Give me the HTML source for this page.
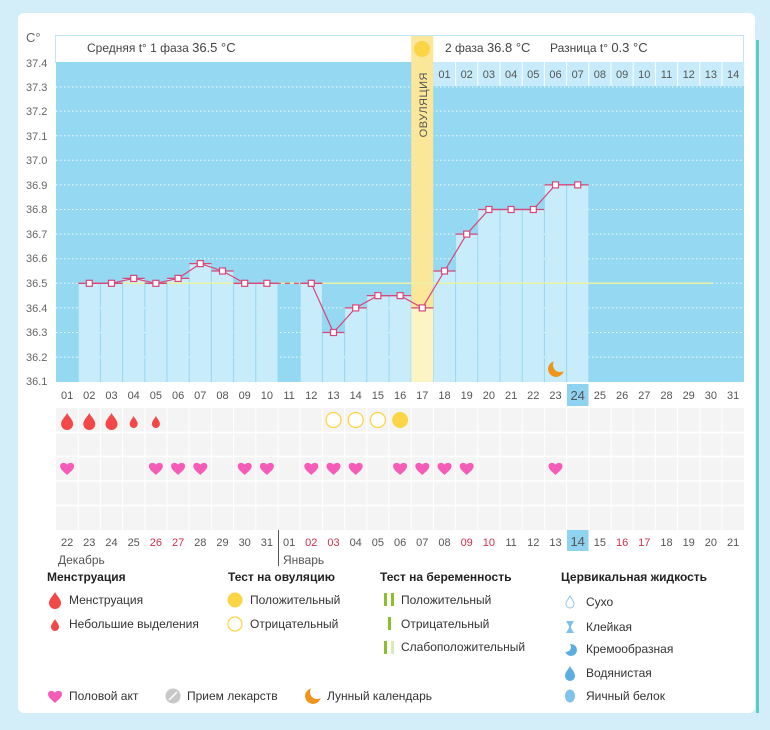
<!DOCTYPE html>
<html><head><meta charset="utf-8"><style>
body{margin:0;width:770px;height:730px;overflow:hidden;background:#d3eef9;font-family:"Liberation Sans",sans-serif}
svg{position:absolute;left:0;top:0}
text{font-family:"Liberation Sans",sans-serif}
</style></head><body>
<svg width="770" height="730" viewBox="0 0 770 730">
<defs>
<path id="hrt" d="M0,7 C-3,4 -7,1.5 -7,-2 C-7,-5 -3,-6.5 0,-3.5 C3,-6.5 7,-5 7,-2 C7,1.5 3,4 0,7Z" fill="#f55cb8"/>
<path id="drp" d="M0,-8 C2,-4 6,-1 6,3 A6,6 0 0 1 -6,3 C-6,-1 -2,-4 0,-8Z" fill="#f24848"/>
<path id="drs" d="M0,-6 C1.5,-3 4,-1 4,2 A4,4 0 0 1 -4,2 C-4,-1 -1.5,-3 0,-6Z" fill="#f24848"/>
<mask id="moonm" maskUnits="userSpaceOnUse" x="-20" y="-20" width="40" height="40">
<circle cx="0" cy="0" r="8" fill="#fff"/><circle cx="4" cy="-4" r="7" fill="#000"/>
</mask>
<mask id="creamm" maskUnits="userSpaceOnUse" x="-20" y="-20" width="40" height="40">
<circle cx="0" cy="0" r="6" fill="#fff"/><circle cx="-5" cy="-3" r="5" fill="#000"/>
</mask>
</defs>
<rect x="0" y="0" width="770" height="730" fill="#d3eef9"/>
<rect x="18" y="13" width="737" height="700" rx="6" fill="#fff"/>
<rect x="756" y="40" width="3" height="680" fill="#5ccdc0"/>
<rect x="0" y="713" width="770" height="8" fill="#d3eef9"/>

<rect x="55.5" y="35.5" width="688" height="27" fill="#fff" stroke="#bfe6f6"/>
<text x="87" y="52" font-size="12" fill="#444">Средняя t° 1 фаза <tspan font-size="13">36.5 °C</tspan></text>
<text x="445" y="52" font-size="12" fill="#444">2 фаза <tspan font-size="13">36.8 °C</tspan></text>
<text x="550" y="52" font-size="12" fill="#444">Разница t° <tspan font-size="13">0.3 °C</tspan></text>

<rect x="56" y="62" width="688" height="320" fill="#94d8f2"/>
<g stroke="#fff" stroke-dasharray="1.5 2.5" stroke-width="1" opacity="0.9">
<line x1="56" x2="744" y1="87" y2="87"/><line x1="56" x2="744" y1="111.1" y2="111.1"/>
<line x1="56" x2="744" y1="135.7" y2="135.7"/><line x1="56" x2="744" y1="160.3" y2="160.3"/>
<line x1="56" x2="744" y1="184.9" y2="184.9"/><line x1="56" x2="744" y1="209.5" y2="209.5"/>
<line x1="56" x2="744" y1="234.1" y2="234.1"/><line x1="56" x2="744" y1="258.7" y2="258.7"/>
<line x1="56" x2="744" y1="283.3" y2="283.3"/><line x1="56" x2="744" y1="307.9" y2="307.9"/>
<line x1="56" x2="744" y1="332.5" y2="332.5"/><line x1="56" x2="744" y1="357.1" y2="357.1"/>
</g>
<rect x="433" y="62" width="311" height="24" fill="#c7ebfa"/>
<g stroke="#fff" stroke-width="1">
<line x1="455.6" x2="455.6" y1="62" y2="86"/><line x1="477.8" x2="477.8" y1="62" y2="86"/><line x1="500" x2="500" y1="62" y2="86"/><line x1="522.2" x2="522.2" y1="62" y2="86"/><line x1="544.4" x2="544.4" y1="62" y2="86"/><line x1="566.6" x2="566.6" y1="62" y2="86"/><line x1="588.8" x2="588.8" y1="62" y2="86"/><line x1="611" x2="611" y1="62" y2="86"/><line x1="633.2" x2="633.2" y1="62" y2="86"/><line x1="655.4" x2="655.4" y1="62" y2="86"/><line x1="677.6" x2="677.6" y1="62" y2="86"/><line x1="699.8" x2="699.8" y1="62" y2="86"/><line x1="722" x2="722" y1="62" y2="86"/>
</g>
<g font-size="11" fill="#555" text-anchor="middle">
<text x="444.5" y="78">01</text><text x="466.7" y="78">02</text><text x="488.9" y="78">03</text><text x="511.1" y="78">04</text><text x="533.3" y="78">05</text><text x="555.5" y="78">06</text><text x="577.7" y="78">07</text><text x="599.9" y="78">08</text><text x="622.1" y="78">09</text><text x="644.3" y="78">10</text><text x="666.5" y="78">11</text><text x="688.7" y="78">12</text><text x="710.9" y="78">13</text><text x="733.1" y="78">14</text>
</g>

<g fill="#c9ecfa">
<rect x="78.7" y="283.3" width="21.2" height="98.7"/><rect x="100.9" y="283.3" width="21.2" height="98.7"/>
<rect x="123.1" y="278.4" width="21.2" height="103.6"/><rect x="145.3" y="283.3" width="21.2" height="98.7"/>
<rect x="167.5" y="278.4" width="21.2" height="103.6"/><rect x="189.7" y="263.6" width="21.2" height="118.4"/>
<rect x="211.9" y="271" width="21.2" height="111"/><rect x="234.1" y="283.3" width="21.2" height="98.7"/>
<rect x="256.3" y="283.3" width="21.2" height="98.7"/>
<rect x="300.7" y="283.3" width="21.2" height="98.7"/><rect x="322.9" y="332.5" width="21.2" height="49.5"/>
<rect x="345.1" y="307.9" width="21.2" height="74.1"/><rect x="367.3" y="295.6" width="21.2" height="86.4"/>
<rect x="389.5" y="295.6" width="21.2" height="86.4"/>
<rect x="433.9" y="271" width="21.2" height="111"/><rect x="456.1" y="234.1" width="21.2" height="147.9"/>
<rect x="478.3" y="209.5" width="21.2" height="172.5"/><rect x="500.5" y="209.5" width="21.2" height="172.5"/>
<rect x="522.7" y="209.5" width="21.2" height="172.5"/><rect x="544.9" y="184.9" width="21.2" height="197.1"/>
<rect x="567.1" y="184.9" width="21.2" height="197.1"/>
</g>
<rect x="411.2" y="36" width="22" height="272" fill="#fbe79a"/>
<rect x="411.2" y="308" width="22" height="74" fill="#fdf4c6"/>
<circle cx="422" cy="49" r="8" fill="#fbd546"/>
<text transform="translate(427,72) rotate(-90)" font-size="11" fill="#555" text-anchor="end" letter-spacing="0.5">ОВУЛЯЦИЯ</text>

<line x1="78" x2="712" y1="283.3" y2="283.3" stroke="#e9f3a6" stroke-width="1.5"/>

<g stroke="#d8477a" stroke-width="1.3">
<line x1="78.2" x2="100.4" y1="283.3" y2="283.3"/><line x1="100.4" x2="122.6" y1="283.3" y2="283.3"/><line x1="122.6" x2="144.8" y1="278.4" y2="278.4"/><line x1="144.8" x2="167" y1="283.3" y2="283.3"/><line x1="167" x2="189.2" y1="278.4" y2="278.4"/><line x1="189.2" x2="211.4" y1="263.6" y2="263.6"/><line x1="211.4" x2="233.6" y1="271" y2="271"/><line x1="233.6" x2="255.8" y1="283.3" y2="283.3"/><line x1="255.8" x2="278" y1="283.3" y2="283.3"/><line x1="300.2" x2="322.4" y1="283.3" y2="283.3"/><line x1="322.4" x2="344.6" y1="332.5" y2="332.5"/><line x1="344.6" x2="366.8" y1="307.9" y2="307.9"/><line x1="366.8" x2="389" y1="295.6" y2="295.6"/><line x1="389" x2="411.2" y1="295.6" y2="295.6"/><line x1="411.2" x2="433.4" y1="307.9" y2="307.9"/><line x1="433.4" x2="455.6" y1="271" y2="271"/><line x1="455.6" x2="477.8" y1="234.1" y2="234.1"/><line x1="477.8" x2="500" y1="209.5" y2="209.5"/><line x1="500" x2="522.2" y1="209.5" y2="209.5"/><line x1="522.2" x2="544.4" y1="209.5" y2="209.5"/><line x1="544.4" x2="566.6" y1="184.9" y2="184.9"/><line x1="566.6" x2="588.8" y1="184.9" y2="184.9"/>
</g>
<polyline fill="none" stroke="#d8477a" stroke-width="1.2" points="89.3,283.3 111.5,283.3 133.7,278.4 155.9,283.3 178.1,278.4 200.3,263.6 222.5,271 244.7,283.3 266.9,283.3"/>
<line x1="266.9" x2="311.3" y1="283.3" y2="283.3" stroke="#d8477a" stroke-width="1.2" stroke-dasharray="5 4"/>
<polyline fill="none" stroke="#d8477a" stroke-width="1.2" points="311.3,283.3 333.5,332.5 355.7,307.9 377.9,295.6 400.1,295.6 422.3,307.9 444.5,271 466.7,234.1 488.9,209.5 511.1,209.5 533.3,209.5 555.5,184.9 577.7,184.9"/>
<g fill="#fff" stroke="#d8477a" stroke-width="1.2">
<rect x="86.3" y="280.3" width="6" height="6"/><rect x="108.5" y="280.3" width="6" height="6"/><rect x="130.7" y="275.4" width="6" height="6"/><rect x="152.9" y="280.3" width="6" height="6"/><rect x="175.1" y="275.4" width="6" height="6"/><rect x="197.3" y="260.6" width="6" height="6"/><rect x="219.5" y="268" width="6" height="6"/><rect x="241.7" y="280.3" width="6" height="6"/><rect x="263.9" y="280.3" width="6" height="6"/><rect x="308.3" y="280.3" width="6" height="6"/><rect x="330.5" y="329.5" width="6" height="6"/><rect x="352.7" y="304.9" width="6" height="6"/><rect x="374.9" y="292.6" width="6" height="6"/><rect x="397.1" y="292.6" width="6" height="6"/><rect x="419.3" y="304.9" width="6" height="6"/><rect x="441.5" y="268" width="6" height="6"/><rect x="463.7" y="231.1" width="6" height="6"/><rect x="485.9" y="206.5" width="6" height="6"/><rect x="508.1" y="206.5" width="6" height="6"/><rect x="530.3" y="206.5" width="6" height="6"/><rect x="552.5" y="181.9" width="6" height="6"/><rect x="574.7" y="181.9" width="6" height="6"/>
</g>
<g transform="translate(556,369)"><circle cx="0" cy="0" r="8" fill="#f0951c" mask="url(#moonm)"/></g>

<g font-size="11" fill="#666">
<text x="26" y="42" font-size="13">C°</text>
<text x="26" y="67">37.4</text><text x="26" y="91">37.3</text><text x="26" y="115">37.2</text><text x="26" y="140">37.1</text><text x="26" y="164">37.0</text><text x="26" y="189">36.9</text><text x="26" y="213">36.8</text><text x="26" y="238">36.7</text><text x="26" y="262">36.6</text><text x="26" y="287">36.5</text><text x="26" y="312">36.4</text><text x="26" y="336">36.3</text><text x="26" y="361">36.2</text><text x="26" y="385">36.1</text>
</g>

<rect x="567" y="384" width="21.5" height="22" fill="#8fd3f0"/>
<g font-size="11" fill="#555" text-anchor="middle">
<text x="67.1" y="399">01</text><text x="89.3" y="399">02</text><text x="111.5" y="399">03</text><text x="133.7" y="399">04</text><text x="155.9" y="399">05</text><text x="178.1" y="399">06</text><text x="200.3" y="399">07</text><text x="222.5" y="399">08</text><text x="244.7" y="399">09</text><text x="266.9" y="399">10</text><text x="289.1" y="399">11</text><text x="311.3" y="399">12</text><text x="333.5" y="399">13</text><text x="355.7" y="399">14</text><text x="377.9" y="399">15</text><text x="400.1" y="399">16</text><text x="422.3" y="399">17</text><text x="444.5" y="399">18</text><text x="466.7" y="399">19</text><text x="488.9" y="399">20</text><text x="511.1" y="399">21</text><text x="533.3" y="399">22</text><text x="555.5" y="399">23</text><text x="577.7" y="400" font-size="13">24</text><text x="599.9" y="399">25</text><text x="622.1" y="399">26</text><text x="644.3" y="399">27</text><text x="666.5" y="399">28</text><text x="688.7" y="399">29</text><text x="710.9" y="399">30</text><text x="733.1" y="399">31</text>
</g>

<rect x="56" y="408" width="688" height="122" fill="#f4f4f4"/>
<g stroke="#fff" stroke-width="1.5">
<line x1="56" x2="744" y1="432.5" y2="432.5"/><line x1="56" x2="744" y1="456.5" y2="456.5"/><line x1="56" x2="744" y1="481" y2="481"/><line x1="56" x2="744" y1="505.5" y2="505.5"/>
</g>
<g stroke="#fff" stroke-width="1">
<line x1="78.2" x2="78.2" y1="408" y2="530"/><line x1="100.4" x2="100.4" y1="408" y2="530"/><line x1="122.6" x2="122.6" y1="408" y2="530"/><line x1="144.8" x2="144.8" y1="408" y2="530"/><line x1="167" x2="167" y1="408" y2="530"/><line x1="189.2" x2="189.2" y1="408" y2="530"/><line x1="211.4" x2="211.4" y1="408" y2="530"/><line x1="233.6" x2="233.6" y1="408" y2="530"/><line x1="255.8" x2="255.8" y1="408" y2="530"/><line x1="278" x2="278" y1="408" y2="530"/><line x1="300.2" x2="300.2" y1="408" y2="530"/><line x1="322.4" x2="322.4" y1="408" y2="530"/><line x1="344.6" x2="344.6" y1="408" y2="530"/><line x1="366.8" x2="366.8" y1="408" y2="530"/><line x1="389" x2="389" y1="408" y2="530"/><line x1="411.2" x2="411.2" y1="408" y2="530"/><line x1="433.4" x2="433.4" y1="408" y2="530"/><line x1="455.6" x2="455.6" y1="408" y2="530"/><line x1="477.8" x2="477.8" y1="408" y2="530"/><line x1="500" x2="500" y1="408" y2="530"/><line x1="522.2" x2="522.2" y1="408" y2="530"/><line x1="544.4" x2="544.4" y1="408" y2="530"/><line x1="566.6" x2="566.6" y1="408" y2="530"/><line x1="588.8" x2="588.8" y1="408" y2="530"/><line x1="611" x2="611" y1="408" y2="530"/><line x1="633.2" x2="633.2" y1="408" y2="530"/><line x1="655.4" x2="655.4" y1="408" y2="530"/><line x1="677.6" x2="677.6" y1="408" y2="530"/><line x1="699.8" x2="699.8" y1="408" y2="530"/><line x1="722" x2="722" y1="408" y2="530"/>
</g>
<use href="#drp" x="67.1" y="421"/><use href="#drp" x="89.3" y="421"/><use href="#drp" x="111.5" y="421"/>
<use href="#drs" x="133.7" y="422"/><use href="#drs" x="155.9" y="422"/>
<g fill="#fff" stroke="#fbd546" stroke-width="1.3">
<circle cx="333.5" cy="420" r="7.5"/><circle cx="355.7" cy="420" r="7.5"/><circle cx="377.9" cy="420" r="7.5"/>
</g>
<circle cx="400.1" cy="420" r="8" fill="#fbd546"/>
<use href="#hrt" x="67.1" y="468"/><use href="#hrt" x="155.9" y="468"/><use href="#hrt" x="178.1" y="468"/><use href="#hrt" x="200.3" y="468"/><use href="#hrt" x="244.7" y="468"/><use href="#hrt" x="266.9" y="468"/><use href="#hrt" x="311.3" y="468"/><use href="#hrt" x="333.5" y="468"/><use href="#hrt" x="355.7" y="468"/><use href="#hrt" x="400.1" y="468"/><use href="#hrt" x="422.3" y="468"/><use href="#hrt" x="444.5" y="468"/><use href="#hrt" x="466.7" y="468"/><use href="#hrt" x="555.5" y="468"/>

<rect x="567" y="530" width="21.5" height="21" fill="#8fd3f0"/>
<line x1="278.5" x2="278.5" y1="530" y2="566" stroke="#555" stroke-width="1"/>
<g font-size="11" fill="#555" text-anchor="middle">
<text x="67.1" y="546">22</text><text x="89.3" y="546">23</text><text x="111.5" y="546">24</text><text x="133.7" y="546">25</text><text x="155.9" y="546" fill="#d0304e">26</text><text x="178.1" y="546" fill="#d0304e">27</text><text x="200.3" y="546">28</text><text x="222.5" y="546">29</text><text x="244.7" y="546">30</text><text x="266.9" y="546">31</text><text x="289.1" y="546">01</text><text x="311.3" y="546" fill="#d0304e">02</text><text x="333.5" y="546" fill="#d0304e">03</text><text x="355.7" y="546">04</text><text x="377.9" y="546">05</text><text x="400.1" y="546">06</text><text x="422.3" y="546">07</text><text x="444.5" y="546">08</text><text x="466.7" y="546" fill="#d0304e">09</text><text x="488.9" y="546" fill="#d0304e">10</text><text x="511.1" y="546">11</text><text x="533.3" y="546">12</text><text x="555.5" y="546">13</text><text x="577.7" y="546" font-size="13">14</text><text x="599.9" y="546">15</text><text x="622.1" y="546" fill="#d0304e">16</text><text x="644.3" y="546" fill="#d0304e">17</text><text x="666.5" y="546">18</text><text x="688.7" y="546">19</text><text x="710.9" y="546">20</text><text x="733.1" y="546">21</text>
</g>
<text x="58" y="564" font-size="12" fill="#555">Декабрь</text>
<text x="283" y="564" font-size="12" fill="#555">Январь</text>

<g font-size="12" font-weight="bold" fill="#222">
<text x="47" y="581">Менструация</text><text x="228" y="581">Тест на овуляцию</text><text x="380" y="581">Тест на беременность</text><text x="561" y="581">Цервикальная жидкость</text>
</g>
<g font-size="12" fill="#333">
<text x="69" y="604">Менструация</text><text x="69" y="628">Небольшие выделения</text>
<text x="250" y="604">Положительный</text><text x="250" y="628">Отрицательный</text>
<text x="401" y="604">Положительный</text><text x="401" y="628">Отрицательный</text><text x="401" y="651">Слабоположительный</text>
<text x="586" y="606">Сухо</text><text x="586" y="631">Клейкая</text><text x="586" y="653">Кремообразная</text><text x="586" y="677">Водянистая</text><text x="586" y="700">Яичный белок</text>
<text x="69" y="700">Половой акт</text><text x="187" y="700">Прием лекарств</text><text x="327" y="700">Лунный календарь</text>
</g>
<use href="#drp" x="55" y="600"/><use href="#drs" x="55" y="625"/>
<circle cx="235" cy="600" r="7.5" fill="#fbd546"/>
<circle cx="235" cy="624" r="7" fill="#fff" stroke="#fbd546" stroke-width="1.3"/>
<rect x="384" y="593" width="3" height="13" fill="#8cbf2a"/><rect x="391" y="593" width="3" height="13" fill="#8cbf2a"/>
<rect x="388" y="617" width="3" height="13" fill="#8cbf2a"/>
<rect x="384" y="641" width="3" height="13" fill="#8cbf2a"/><rect x="391" y="641" width="3" height="13" fill="#d9ebb5"/>
<path d="M570,596 C571.5,599 574,601 574,604 A4,4 0 0 1 566,604 C566,601 568.5,599 570,596Z" fill="#fff" stroke="#8fcbea" stroke-width="1"/>
<path d="M566,621 h8 l-3,5 v2 l3,5 h-8 l3,-5 v-2z" fill="#7dc3ea"/>
<g transform="translate(571,650)"><circle cx="0" cy="0" r="6" fill="#5aaee0" mask="url(#creamm)"/></g>
<path d="M570,666 C572,670 575,672 575,676 A5,5 0 0 1 565,676 C565,672 568,670 570,666Z" fill="#5aaee0"/>
<ellipse cx="570" cy="696" rx="5" ry="6.5" fill="#7dc3ea"/>
<use href="#hrt" x="55" y="696"/>
<circle cx="173" cy="696" r="7.5" fill="#c8c8c8"/><line x1="169" y1="700" x2="177" y2="692" stroke="#fff" stroke-width="1.5"/>
<g transform="translate(313,696)"><circle cx="0" cy="0" r="8" fill="#f0951c" mask="url(#moonm)"/></g>
</svg>
</body></html>
